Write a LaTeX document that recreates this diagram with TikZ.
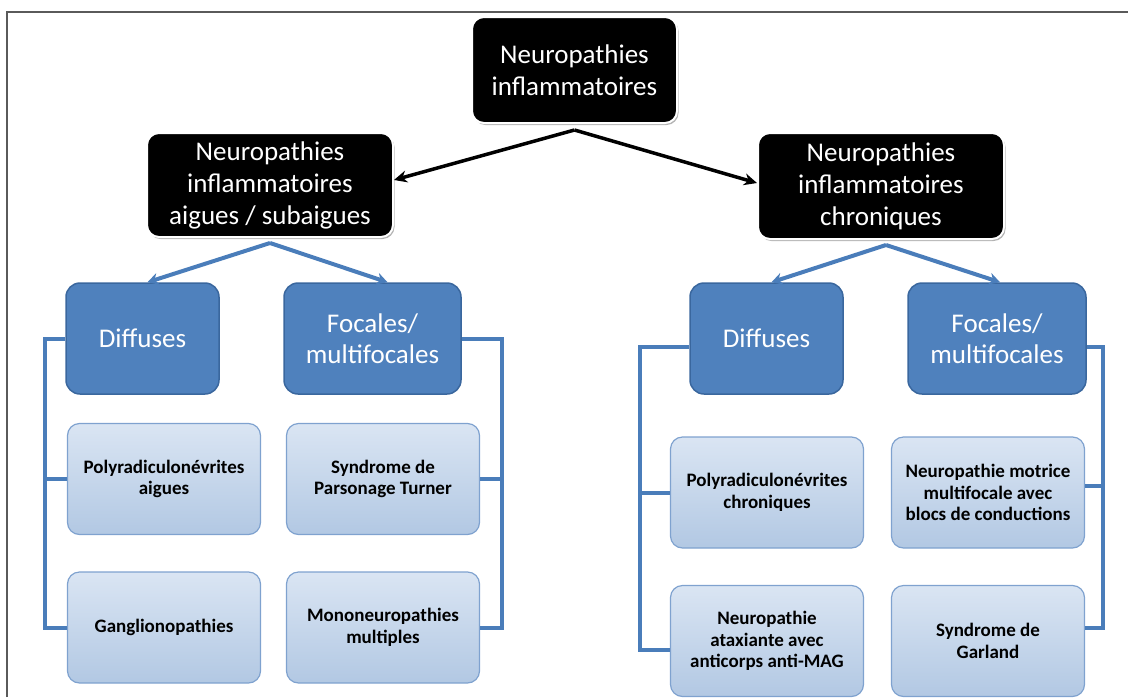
\documentclass[tikz,border=0pt]{standalone}
\usepackage{fontspec}
\setmainfont{Carlito}
\usetikzlibrary{arrows.meta,shadows}
\definecolor{FrameGray}{HTML}{5A5A5A}
\definecolor{GroupBlue}{HTML}{4F81BD}
\definecolor{GroupEdge}{HTML}{3A679E}
\definecolor{LeafTop}{HTML}{DAE5F3}
\definecolor{LeafBottom}{HTML}{B2C8E3}
\definecolor{LeafEdge}{HTML}{7FA2CF}
\definecolor{LinkBlue}{HTML}{4A7DBA}

\begin{document}
\begin{tikzpicture}[x=1pt,y=-1pt,
  headbox/.style={rounded corners=12pt, fill=black, draw=white, line width=2pt, text=white, align=center, inner sep=0pt, font=\fontsize{27}{32}\selectfont, drop shadow={shadow xshift=1.5pt, shadow yshift=-2pt, fill=black!50, opacity=0.6}},
  groupbox/.style={rounded corners=14pt, fill=GroupBlue, draw=GroupEdge, line width=1.5pt, text=white, align=center, inner sep=0pt, minimum height=111pt, font=\fontsize{27}{31}\selectfont},
  leafbox/.style={rounded corners=12pt, top color=LeafTop, bottom color=LeafBottom, draw=LeafEdge, line width=1.2pt, align=center, inner sep=0pt, minimum width=193pt, minimum height=111pt, font=\fontsize{19}{21.5}\selectfont\bfseries},
  mainarrow/.style={-{Stealth[length=13pt,width=12pt]}, line width=3.5pt, black},
  subarrow/.style={-{Stealth[length=11pt,width=12pt]}, line width=4pt, LinkBlue},
  railline/.style={LinkBlue, line width=4pt}]
  \useasboundingbox (0,0) rectangle (1128,697);
  \draw[FrameGray, line width=2pt] (7,697) -- (7,12) -- (1128,12);
  \node[headbox, minimum width=205pt, minimum height=106pt] (root) at (574.5,70) {Neuropathies\\inflammatoires};
  \node[headbox, minimum width=246pt, minimum height=104pt] (acute) at (270,185) {Neuropathies\\inflammatoires\\aigues / subaigues};
  \node[headbox, minimum width=246pt, minimum height=106pt] (chronic) at (881,186) {Neuropathies\\inflammatoires\\chroniques};
  \node[groupbox, minimum width=153pt] (diffA) at (142.5,338.5) {Diffuses};
  \node[groupbox, minimum width=177pt] (focA) at (372.5,338.5) {Focales/\\multifocales};
  \node[groupbox, minimum width=153pt] (diffB) at (766.5,338.5) {Diffuses};
  \node[groupbox, minimum width=178pt] (focB) at (997,338.5) {Focales/\\multifocales};
  \node[leafbox] (polyA) at (164,479) {Polyradiculonévrites\\aigues};
  \node[leafbox] (gangl) at (164,627.5) {Ganglionopathies};
  \node[leafbox] (parson) at (383,479) {Syndrome de\\Parsonage Turner};
  \node[leafbox] (mono) at (383,627.5) {Mononeuropathies\\multiples};
  \node[leafbox] (polyB) at (767,492.5) {Polyradiculonévrites\\chroniques};
  \node[leafbox] (ataxic) at (767,641) {Neuropathie\\ataxiante avec\\anticorps anti-MAG};
  \node[leafbox] (mmn) at (988,492.5) {Neuropathie motrice\\multifocale avec\\blocs de conductions};
  \node[leafbox] (garland) at (988,641) {Syndrome de\\Garland};
  \draw[mainarrow] ([yshift=-6pt]root.south) -- ([yshift=5pt]acute.east);
  \draw[mainarrow] ([yshift=-6pt]root.south) -- ([yshift=3pt]chronic.west);
  \draw[subarrow] ([yshift=-5pt]acute.south) -- ([xshift=5pt]diffA.north);
  \draw[subarrow] ([yshift=-5pt]acute.south) -- ([xshift=15pt]focA.north);
  \draw[subarrow] ([xshift=5pt,yshift=-5pt]chronic.south) -- ([xshift=5pt]diffB.north);
  \draw[subarrow] ([xshift=5pt,yshift=-5pt]chronic.south) -- ([xshift=3pt]focB.north);
  \coordinate (railA) at (45,0);
  \coordinate (railB) at (502,0);
  \coordinate (railC) at (640,0);
  \coordinate (railD) at (1103,0);
  \draw[railline] (diffA.west) -- (diffA.west -| railA) |- (gangl.west);
  \draw[railline] (polyA.west) -- (polyA.west -| railA);
  \draw[railline] (focA.east) -- (focA.east -| railB) |- (mono.east);
  \draw[railline] (parson.east) -- (parson.east -| railB);
  \draw[railline] ([yshift=-8pt]diffB.west) -- ([yshift=-8pt]diffB.west -| railC) |- ([yshift=-9pt]ataxic.west);
  \draw[railline] (polyB.west) -- (polyB.west -| railC);
  \draw[railline] ([yshift=-8pt]focB.east) -- ([yshift=-8pt]focB.east -| railD) |- ([yshift=13pt]garland.east);
  \draw[railline] ([yshift=7pt]mmn.east) -- ([yshift=7pt]mmn.east -| railD);
\end{tikzpicture}
\end{document}
